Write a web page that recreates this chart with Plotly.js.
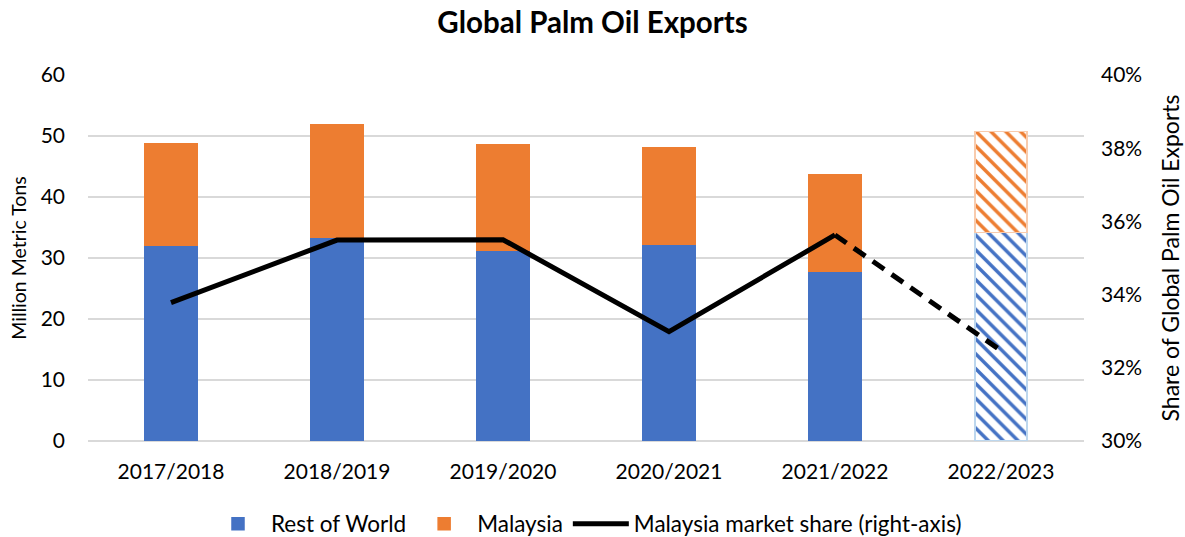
<!DOCTYPE html>
<html>
<head>
<meta charset="utf-8">
<script src="https://cdn.plot.ly/plotly-3.0.1.min.js"></script>
<style>html,body{margin:0;padding:0;background:#fff;}#chart{width:1185px;height:537px;}</style>
</head>
<body>
<div id="chart"></div>
<script>
const categories = ["2017/2018", "2018/2019", "2019/2020", "2020/2021", "2021/2022", "2022/2023"];
const restOfWorld = [32.1, 33.4, 31.2, 32.2, 27.9, 34.2];
const malaysia = [16.6, 18.4, 17.3, 15.9, 15.7, 16.5];
const marketShare = [33.78, 35.49, 35.5, 32.99, 35.63, 32.47];
const forecastIndex = 5;

const FONT = "Lato, 'Open Sans', sans-serif";
const BLUE = "#4472C4", ORANGE = "#ED7D31";

const isForecast = categories.map((c, i) => i >= forecastIndex);

function barMarker(color, lightBorder) {
  return {
    color: color,
    line: {color: isForecast.map(f => f ? lightBorder : color), width: 1.5},
    pattern: {
      shape: isForecast.map(f => f ? "\\" : ""),
      fgcolor: color, bgcolor: "#ffffff", size: 10.5, solidity: 0.33, fillmode: "replace"
    }
  };
}

const traces = [
  {type: "bar", name: "Rest of World", x: categories, y: restOfWorld, marker: barMarker(BLUE, "#BDD7EE")},
  {type: "bar", name: "Malaysia", x: categories, y: malaysia, marker: barMarker(ORANGE, "#F8CBAD")},
  {
    type: "scatter", mode: "lines", name: "Malaysia market share (right-axis)",
    x: categories.slice(0, forecastIndex), y: marketShare.slice(0, forecastIndex),
    yaxis: "y2", line: {color: "#000000", width: 5}
  },
  {
    type: "scatter", mode: "lines", showlegend: false, name: "Malaysia market share (forecast)",
    x: categories.slice(forecastIndex - 1), y: marketShare.slice(forecastIndex - 1),
    yaxis: "y2", line: {color: "#000000", width: 5, dash: "14px,9px"}
  }
];

const layout = {
  width: 1185, height: 537,
  margin: {l: 88, r: 101, t: 75, b: 96, autoexpand: false},
  paper_bgcolor: "#ffffff", plot_bgcolor: "#ffffff",
  font: {family: FONT, size: 21, color: "#000000"},
  title: {text: "<b>Global Palm Oil Exports</b>", font: {family: FONT, size: 29.5, color: "#000000"}, x: 0.5, xanchor: "center", y: 0.958, yanchor: "middle"},
  barmode: "stack",
  bargap: 0.687,
  showlegend: true,
  legend: {orientation: "h", x: 0.5, xanchor: "center", y: -0.227, yanchor: "middle", font: {family: FONT, size: 22.5}, traceorder: "normal", itemwidth: 56},
  xaxis: {
    type: "category", showgrid: false, zeroline: false, showline: false,
    ticks: "", ticklabelstandoff: 16, tickfont: {family: FONT, size: 21}, automargin: false
  },
  yaxis: {
    range: [0, 60], dtick: 10, showgrid: true, gridcolor: "#D9D9D9", gridwidth: 1.5,
    zeroline: true, zerolinecolor: "#D9D9D9", zerolinewidth: 1.5, showline: false,
    ticks: "", ticklabelstandoff: 22,
    tickfont: {family: FONT, size: 21},
    title: {text: "Million Metric Tons", font: {family: FONT, size: 19.5}, standoff: 8},
    automargin: false
  },
  yaxis2: {
    overlaying: "y", side: "right", range: [30, 40], dtick: 2, ticksuffix: "%",
    showgrid: false, zeroline: false, showline: false, ticks: "", ticklabelstandoff: 16,
    tickfont: {family: FONT, size: 21},
    title: {text: "Share of Global Palm Oil Exports", font: {family: FONT, size: 23}, standoff: 21},
    automargin: false
  }
};

Plotly.newPlot("chart", traces, layout, {displayModeBar: false, staticPlot: true});
</script>
</body>
</html>
